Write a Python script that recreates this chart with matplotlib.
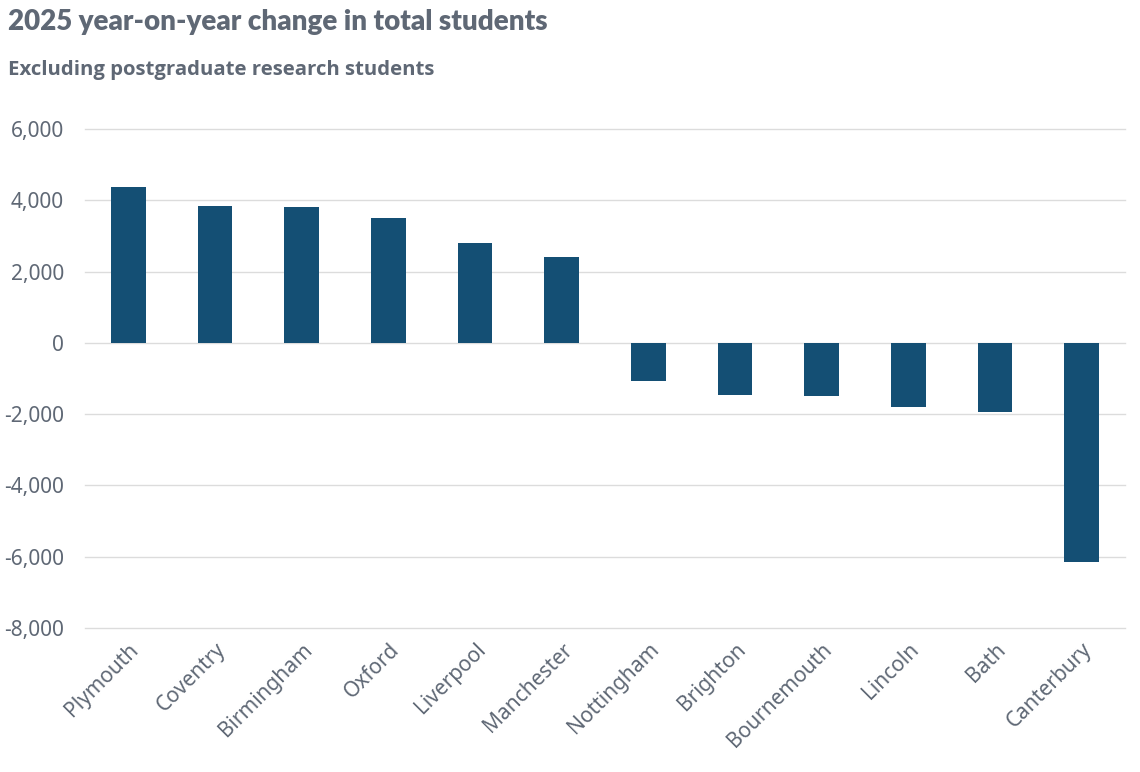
import matplotlib.pyplot as plt
from matplotlib.ticker import FuncFormatter

# data
cities = ['Plymouth', 'Coventry', 'Birmingham', 'Oxford', 'Liverpool', 'Manchester',
          'Nottingham', 'Brighton', 'Bournemouth', 'Lincoln', 'Bath', 'Canterbury']
change = [4365, 3835, 3810, 3500, 2800, 2410,
          -1070, -1450, -1480, -1810, -1940, -6150]
y_ticks = [-8000, -6000, -4000, -2000, 0, 2000, 4000, 6000]

bar_color = '#144f74'
text_color = '#5f6875'
grid_color = '#dcdcdc'

fig = plt.figure(figsize=(11.4, 7.72), dpi=100)
ax = fig.add_axes([85 / 1140, 1 - 628 / 772, 1040 / 1140, 499 / 772])

ax.bar(range(len(cities)), change, width=0.4, color=bar_color, zorder=3)

ax.set_xlim(-0.5, len(cities) - 0.5)
ax.set_ylim(-8000, 6000)
ax.set_yticks(y_ticks)
ax.yaxis.set_major_formatter(FuncFormatter(lambda v, p: f'{int(v):,}'))
ax.grid(axis='y', color=grid_color, linewidth=1, zorder=0)
for g in ax.yaxis.get_gridlines():
    g.set_clip_on(False)

ax.set_xticks(range(len(cities)))
ax.set_xticklabels(cities, rotation=45, ha='right', rotation_mode='anchor',
                   fontsize=15, color=text_color, family='Noto Sans')
for lbl in ax.get_yticklabels():
    lbl.set_fontsize(15)
    lbl.set_color(text_color)
    lbl.set_family('Noto Sans')

ax.tick_params(axis='both', length=0)
ax.tick_params(axis='y', pad=15)
ax.tick_params(axis='x', pad=8)
for s in ax.spines.values():
    s.set_visible(False)

fig.text(8 / 1140, 1 - 22 / 772, '2025 year-on-year change in total students',
         fontsize=20, fontweight='heavy', color=text_color, family='Lato', va='center')
fig.text(8 / 1140, 1 - 70 / 772, 'Excluding postgraduate research students',
         fontsize=14.7, fontweight='bold', color=text_color, family='Open Sans', va='center')

fig.savefig('out.png', dpi=100, facecolor='white')
